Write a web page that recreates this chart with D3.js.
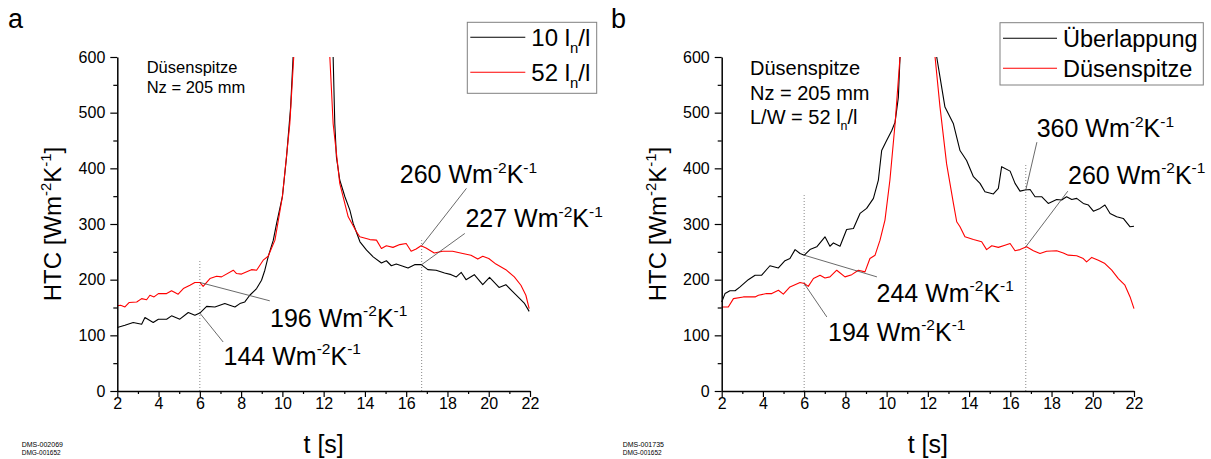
<!DOCTYPE html>
<html><head><meta charset="utf-8">
<script src="https://cdn.jsdelivr.net/npm/d3@7"></script>
<style>
body{margin:0;background:#fff}
svg{display:block}
text{font-family:"Liberation Sans",Arial,Helvetica,sans-serif;fill:#000}
</style>
</head><body>
<svg id="c" width="1211" height="459"></svg>
<script>
// ---------------- DATA ----------------
const xTicks = [2,4,6,8,10,12,14,16,18,20,22];
const xMinor = [3,5,7,9,11,13,15,17,19,21];
const yTicks = [0,100,200,300,400,500,600];
const yMinor = [50,150,250,350,450,550];

// Panel a: "10 l_n/l" (black)
const tA10 = [2.0,2.37,2.77,3.18,3.34,3.74,3.99,4.39,4.63,5.03,5.44,5.76,6.0,6.33,6.73,7.21,7.45,7.70,7.94,8.18,8.42,8.75,8.99,9.15,9.31,9.56,9.72,10.0,10.2,10.4,10.52,
  11.5,
  12.46,12.54,12.62,12.78,13.03,13.27,13.43,13.67,13.76,14.08,14.4,14.8,15.04,15.28,15.52,15.77,16.09,16.41,16.73,17.05,17.45,17.86,18.18,18.43,18.67,18.9,19.3,19.71,20.04,20.5,20.83,21.15,21.48,21.72,21.96];
const hA10 = [114,118,123,120,132,123,129,129,135,129,141,136,140,152,151,157,154,151,157,160,172,184,199,217,241,271,301,349,420,510,600,
  null,
  600,480,420,379,349,325,301,277,268,253,241,230,234,225,228,225,221,227,227,218,217,212,209,205,213,200,209,191,204,186,191,179,167,158,143];

// Panel a: "52 l_n/l" (red)
const tA52 = [2.0,2.16,2.37,2.58,2.94,3.18,3.42,3.58,3.78,3.99,4.39,4.63,4.95,5.2,5.52,5.76,6.0,6.16,6.49,6.81,7.05,7.62,7.78,8.02,8.5,8.75,9.07,9.31,9.64,10.0,10.36,10.55,
  11.5,
  12.3,12.46,12.78,13.19,13.59,13.75,14.24,14.56,14.8,15.04,15.36,15.69,16.0,16.24,16.48,16.72,16.96,17.36,17.77,18.25,18.74,19.14,19.47,19.71,20.0,20.35,20.83,21.24,21.56,21.8,21.96];
const hA52 = [153,154,151,159,160,166,164,172,169,175,175,180,174,184,190,195,195,188,202,206,205,217,211,210,218,217,235,242,271,349,480,600,
  null,
  600,480,373,313,286,277,272,271,256,261,258,263,265,251,255,261,257,248,251,251,247,244,237,242,238,228,218,205,190,172,148];

// Panel b: "Überlappung" (black)
const tBUe = [2.0,2.16,2.4,2.65,2.89,3.29,3.62,3.94,4.34,4.75,5.07,5.31,5.56,5.8,6.01,6.28,6.61,7.01,7.25,7.42,7.74,8.06,8.39,8.71,9.03,9.36,9.6,9.76,10.0,10.25,10.41,10.57,10.65,
  11.5,
  12.43,12.59,12.83,13.24,13.56,13.88,14.21,14.53,14.77,15.18,15.42,15.58,15.99,16.23,16.47,16.71,16.96,17.2,17.52,17.84,18.25,18.49,18.73,18.98,19.22,19.54,19.79,20.03,20.35,20.59,20.84,21.16,21.48,21.81,22.0];
const hBUe = [160,175,180,180,187,200,208,208,225,221,234,238,254,247,244,254,259,277,260,266,260,290,292,319,328,346,379,432,450,468,483,528,600,
  null,
  600,564,510,480,432,414,385,373,358,354,364,403,395,373,359,361,362,349,349,337,344,343,349,344,346,337,334,323,328,334,319,313,310,295,296];

// Panel b: "Düsenspitze" (red)
const tBDs = [2.0,2.32,2.57,3.05,3.62,3.78,4.18,4.43,4.75,4.99,5.31,5.8,6.01,6.2,6.45,6.77,7.01,7.25,7.58,7.98,8.31,8.63,8.95,9.19,9.44,9.68,9.92,10.16,10.41,10.65,
  11.5,
  12.35,12.59,12.91,13.24,13.4,13.56,13.8,14.21,14.61,14.85,15.1,15.42,15.74,15.99,16.23,16.47,16.79,17.12,17.44,17.76,18.25,18.57,18.81,19.22,19.54,19.7,19.95,20.27,20.59,20.92,21.24,21.56,21.81,22.0];
const hBDs = [151,151,166,169,169,172,175,175,181,174,187,195,193,188,202,208,203,205,217,205,209,217,214,238,244,271,307,379,480,600,
  null,
  600,510,408,337,304,295,277,272,268,254,261,258,262,265,252,254,259,252,247,251,252,248,244,243,238,232,240,235,229,217,202,190,169,148];

// Annotated values
const annA = ["196","144","260","227"];
const annB = ["244","194","360","260"];
const legendA = ["10", "52"];
const legendB = ["Überlappung", "Düsenspitze"];

// ---------------- LAYOUT ----------------
const svg = d3.select("#c");
const FONT_ANN = 25;

function richText(g, x, y, parts, size, opts = {}) {
  const t = g.append("text").attr("x", x).attr("y", y)
    .attr("font-size", size + "px");
  if (opts.anchor) t.attr("text-anchor", opts.anchor);
  if (opts.transform) t.attr("transform", opts.transform);
  let shift = 0;
  parts.forEach(p => {
    const s = p.sup ? -0.42 * size : p.sub ? 0.3 * size : 0;
    const ts = t.append("tspan").text(p.t).attr("dy", (s - shift).toFixed(2));
    if (p.sup || p.sub) ts.attr("font-size", (size * 0.62) + "px");
    shift = s;
  });
  return t;
}
const unitParts = v => [{t: v + " Wm"}, {t: "-2", sup: true}, {t: "K"}, {t: "-1", sup: true}];

function panel(cfg) {
  const g = svg.append("g");
  const x = d3.scaleLinear().domain([2, 22]).range([cfg.x0, cfg.x1]);
  const y = d3.scaleLinear().domain([0, 600]).range([391, 57]);

  // dotted guide lines
  cfg.guides.forEach(gd => {
    g.append("line").attr("x1", x(gd[0])).attr("x2", x(gd[0]))
      .attr("y1", y(0)).attr("y2", y(gd[1]))
      .attr("stroke", "#888").attr("stroke-width", 1).attr("stroke-dasharray", "1,2");
  });

  const line = d3.line().defined(d => d[1] != null).x(d => x(d[0])).y(d => y(d[1]));
  cfg.series.forEach(s => {
    g.append("path").datum(d3.zip(s.t, s.h)).attr("d", line)
      .attr("fill", "none").attr("stroke", s.color).attr("stroke-width", 1.1)
      .attr("stroke-linejoin", "round");
  });

  // leader lines + labels
  cfg.ann.forEach(a => {
    g.append("line").attr("x1", x(a.from[0])).attr("y1", y(a.from[1]))
      .attr("x2", x(a.to[0])).attr("y2", y(a.to[1]))
      .attr("stroke", "#444").attr("stroke-width", 0.8);
    richText(g, x(a.txt[0]), y(a.txt[1]), unitParts(a.label), FONT_ANN);
  });

  // axes
  const ax = g.append("g").attr("transform", `translate(0,${y(0)})`)
    .call(d3.axisBottom(x).tickValues(xTicks).tickSize(6).tickSizeOuter(0).tickPadding(1).tickFormat(d3.format("d")));
  g.append("g").attr("transform", `translate(0,${y(0)})`)
    .call(d3.axisBottom(x).tickValues(xMinor).tickSize(3).tickSizeOuter(0).tickFormat(""))
    .select(".domain").remove();
  const ay = g.append("g").attr("transform", `translate(${x(2)},0)`)
    .call(d3.axisLeft(y).tickValues(yTicks).tickSize(7).tickSizeOuter(0).tickPadding(5).tickFormat(d3.format("d")));
  g.append("g").attr("transform", `translate(${x(2)},0)`)
    .call(d3.axisLeft(y).tickValues(yMinor).tickSize(4).tickSizeOuter(0).tickFormat(""))
    .select(".domain").remove();
  g.selectAll(".domain").attr("stroke-width", 1.5);
  g.selectAll(".tick line").attr("stroke-width", 1.2);
  g.selectAll(".tick text").attr("font-size", "16px").attr("font-family", '"Liberation Sans",Arial,sans-serif');

  // axis titles
  g.append("text").attr("x", (cfg.x0 + cfg.x1) / 2).attr("y", 453)
    .attr("text-anchor", "middle").attr("font-size", "25px").text("t [s]");
  richText(g, 0, 0, [{t: "HTC [Wm"}, {t: "-2", sup: true}, {t: "K"}, {t: "-1", sup: true}, {t: "]"}], 24,
    {anchor: "middle", transform: `translate(${cfg.yTitleX},${(y(0) + y(600)) / 2}) rotate(-90)`});

  // panel letter
  g.append("text").attr("x", cfg.letterX).attr("y", 28).attr("font-size", "27px").text(cfg.letter);

  // IDs
  g.append("text").attr("x", cfg.idX).attr("y", 447).attr("font-size", "7px").attr("fill", "#333").text(cfg.id1);
  g.append("text").attr("x", cfg.idX).attr("y", 455).attr("font-size", "6.5px").attr("fill", "#333").text(cfg.id2);

  // inline description
  cfg.desc.lines.forEach((ln, i) => {
    richText(g, cfg.desc.x, cfg.desc.y + i * cfg.desc.dy, ln, cfg.desc.size);
  });

  // legend
  const L = cfg.legend;
  g.append("rect").attr("x", L.x).attr("y", L.y).attr("width", L.w).attr("height", L.h)
    .attr("fill", "#fff").attr("stroke", "#808080").attr("stroke-width", 1);
  L.items.forEach((it, i) => {
    const yy = L.y + L.row0 + i * L.dy;
    g.append("line").attr("x1", L.x + 3).attr("x2", L.x + 3 + L.len).attr("y1", yy).attr("y2", yy)
      .attr("stroke", it.color).attr("stroke-width", 1.1);
    richText(g, L.x + L.len + 9, yy + 8.5, it.parts, L.size);
  });
}

// Panel a
panel({
  x0: 117.3, x1: 530, letter: "a", letterX: 8, yTitleX: 61, idX: 21.7,
  id1: "DMS-002069", id2: "DMG-001652",
  guides: [[6, 235], [16.75, 271]],
  series: [
    {t: tA10, h: hA10, color: "#000"},
    {t: tA52, h: hA52, color: "#ff0000"}
  ],
  ann: [
    {label: annA[0], from: [6, 195], to: [9.39, 162], txt: [9.4, 115]},
    {label: annA[1], from: [6, 140], to: [7.13, 88], txt: [7.15, 47]},
    {label: annA[2], from: [16.75, 261], to: [18.92, 364], txt: [15.69, 373]},
    {label: annA[3], from: [16.75, 227], to: [18.84, 283], txt: [18.87, 294]}
  ],
  desc: {x: 146.7, y: 73.3, dy: 20, size: 16.5, lines: [[{t: "Düsenspitze"}], [{t: "Nz = 205 mm"}]]},
  legend: {x: 467.3, y: 22.3, w: 129.4, h: 71, len: 55, row0: 15, dy: 35, size: 24,
    items: [
      {color: "#000", parts: [{t: legendA[0] + " l"}, {t: "n", sub: true}, {t: "/l"}]},
      {color: "#ff0000", parts: [{t: legendA[1] + " l"}, {t: "n", sub: true}, {t: "/l"}]}
    ]}
});

// Panel b
panel({
  x0: 721.7, x1: 1134, letter: "b", letterX: 611, yTitleX: 666, idX: 622.7,
  id1: "DMS-001735", id2: "DMG-001652",
  guides: [[6, 352], [16.75, 406]],
  series: [
    {t: tBUe, h: hBUe, color: "#000"},
    {t: tBDs, h: hBDs, color: "#ff0000"}
  ],
  ann: [
    {label: annB[0], from: [6, 244], to: [9.53, 205], txt: [9.51, 160]},
    {label: annB[1], from: [6, 193], to: [7.1, 133], txt: [7.16, 90]},
    {label: annB[2], from: [16.75, 361], to: [17.29, 447], txt: [17.28, 456]},
    {label: annB[3], from: [16.75, 259], to: [18.79, 359], txt: [18.8, 372]}
  ],
  desc: {x: 750, y: 75, dy: 24.5, size: 20, lines: [
    [{t: "Düsenspitze"}], [{t: "Nz = 205 mm"}], [{t: "L/W = 52 l"}, {t: "n", sub: true}, {t: "/l"}]]},
  legend: {x: 1000, y: 22.7, w: 203.3, h: 62.3, len: 54, row0: 15.6, dy: 30, size: 23.5,
    items: [
      {color: "#000", parts: [{t: legendB[0]}]},
      {color: "#ff0000", parts: [{t: legendB[1]}]}
    ]}
});
</script>
</body></html>
